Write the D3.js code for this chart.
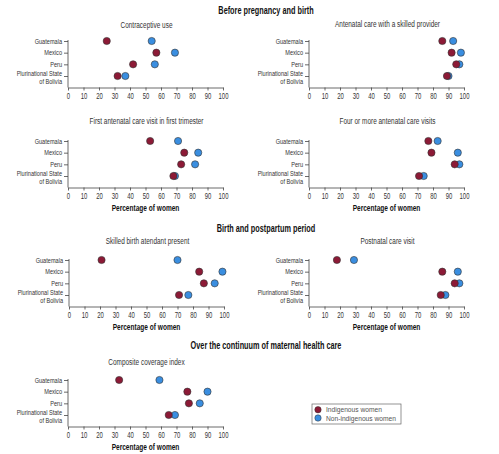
<!DOCTYPE html>
<html><head><meta charset="utf-8">
<script src="https://cdn.jsdelivr.net/npm/d3@7"></script>
<style>
body{margin:0;background:#fff;}
text{font-family:"Liberation Sans",Arial,sans-serif;}
</style></head>
<body><svg id="c" width="499" height="454"></svg>
<script>
const countries = ["Guatemala","Mexico","Peru","Plurinational State of Bolivia"];
const seriesNames = ["Indigenous women","Non-indigenous women"];
const xTicks = [0,10,20,30,40,50,60,70,80,90,100];
const sections = ["Before pregnancy and birth","Birth and postpartum period","Over the continuum of maternal health care"];
const indicators = ["Contraceptive use","Antenatal care with a skilled provider","First antenatal care visit in first trimester","Four or more antenatal care visits","Skilled birth atendant present","Postnatal care visit","Composite coverage index"];
// values per indicator, order of countries
const indigenous = [
  [25,57,42,32],
  [86,92,95,89],
  [53,75,73,68],
  [77,79,94,71],
  [21,84,87,71],
  [18,86,94,85],
  [33,77,78,65]
];
const nonIndigenous = [
  [54,69,56,37],
  [93,98,97,90],
  [71,84,82,69],
  [83,96,97,74],
  [70,99,94,77],
  [29,96,97,88],
  [59,90,85,69]
];
const xLabel = "Percentage of women";

const colors = ["#8c1a36","#3a8ee0"];
const svg = d3.select("#c");

function addText(parent, x, y, str, o){
  const t = parent.append("text")
    .attr("transform",`translate(${x},${y}) scale(${o.sx||0.72},1)`)
    .attr("dy","0.35em")
    .attr("text-anchor",o.anchor||"middle")
    .attr("font-size",o.size||8)
    .attr("font-weight",o.bold?"bold":"normal")
    .attr("fill",o.fill||"#333");
  if(Array.isArray(str)){
    str.forEach((s,k)=>t.append("tspan").attr("x",0).attr("dy",k===0?0:"1.05em").text(s));
  } else t.text(str);
  return t;
}

// layout
const panels = [
  {x0:68, x1:223, y:41, t:24.5, xl:false},
  {x0:309, x1:464, y:41, t:23.5, xl:false},
  {x0:68, x1:223, y:141, t:121, xl:true},
  {x0:309, x1:464, y:141, t:121, xl:true},
  {x0:69, x1:224, y:260, t:240.5, xl:true},
  {x0:309, x1:464, y:260, t:240.5, xl:true},
  {x0:68, x1:223, y:380, t:361.5, xl:true}
];
const headerY = [10, 228, 345.5];
sections.forEach((s,i)=>{
  addText(svg, 266, headerY[i], s, {size:10, bold:true, sx:0.73, fill:"#111"});
});

panels.forEach((p,i)=>{
  const g = svg.append("g");
  const x = d3.scaleLinear().domain([0,100]).range([p.x0,p.x1]);
  const y = d3.scalePoint().domain(countries).range([p.y, p.y+35]);
  const axisY = p.y+46.5;
  // x axis
  const xa = g.append("g").attr("transform",`translate(0,${axisY})`)
    .call(d3.axisBottom(x).tickValues(xTicks).tickSize(3).tickSizeOuter(0).tickPadding(2));
  xa.selectAll("text").attr("font-size",9).attr("fill","#333")
    .attr("transform","scale(0.66,1)")
    .style("font-family",'"Liberation Sans",Arial,sans-serif');
  xa.selectAll("line,path").attr("stroke","#444").attr("stroke-width",0.8);
  // y axis
  const ya = g.append("g").attr("transform",`translate(${p.x0},0)`)
    .call(d3.axisLeft(y).tickSize(4).tickSizeOuter(0).tickPadding(2).tickFormat(""));
  ya.select(".domain").attr("d",`M0,${p.y-1}V${axisY}`);
  ya.selectAll("line,path").attr("stroke","#444").attr("stroke-width",0.8);
  countries.forEach(c=>{
    const lab = c.startsWith("Plurinational") ? ["Plurinational State","of Bolivia"] : c;
    addText(g, p.x0-6, y(c), lab, {anchor:"end", size:8, sx:0.7});
  });
  // title
  addText(g, (p.x0+p.x1)/2+1, p.t, indicators[i], {size:9.5, sx:0.68});
  if(p.xl){
    addText(g, (p.x0+p.x1)/2, axisY+20.5, xLabel, {size:9.5, bold:true, sx:0.69, fill:"#111"});
  }
  // points: non-indigenous first, indigenous on top
  [nonIndigenous, indigenous].forEach((arr,k)=>{
    const col = k===0?colors[1]:colors[0];
    g.selectAll(null).data(arr[i]).enter().append("circle")
      .attr("cx",d=>x(d)).attr("cy",(d,j)=>y(countries[j])).attr("r",3.6)
      .attr("fill",col).attr("stroke","#333").attr("stroke-width",0.6);
  });
});

// legend
const lg = svg.append("g");
lg.append("rect").attr("x",312).attr("y",404).attr("width",89).attr("height",20)
  .attr("fill","#fff").attr("stroke","#666").attr("stroke-width",0.7);
seriesNames.forEach((s,i)=>{
  lg.append("circle").attr("cx",318).attr("cy",409.7+i*8.3).attr("r",3.2)
    .attr("fill",colors[i]).attr("stroke","#333").attr("stroke-width",0.5);
  addText(lg, 326, 409.7+i*8.3, s, {anchor:"start", size:7.5, sx:0.89, fill:"#555"});
});
</script></body></html>
